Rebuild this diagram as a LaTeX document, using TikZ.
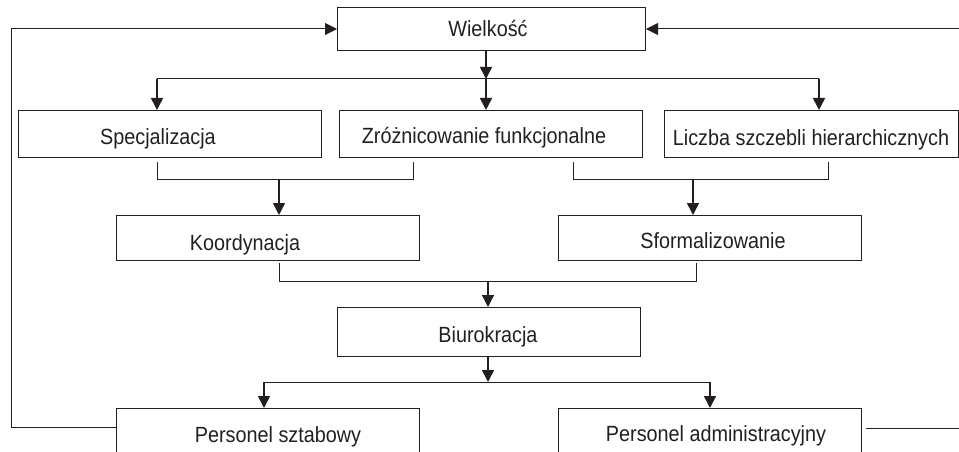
\documentclass[tikz,border=0pt]{standalone}
\usepackage{fontspec}
\setmainfont{Liberation Sans}[FakeStretch=0.9]
\usetikzlibrary{arrows.meta}
\definecolor{ink}{RGB}{35,31,32}
\begin{document}
\begin{tikzpicture}[x=1pt,y=-1pt,
  box/.style={draw=ink, line width=1pt, anchor=north west, inner sep=0pt, minimum height=#1},
  box/.default=47pt,
  txt/.style={anchor=base, inner sep=0pt, text=ink, font=\fontsize{22pt}{24pt}\selectfont},
  ln/.style={draw=ink, line width=1pt},
  arr/.style={draw=ink, line width=1.6pt, -{Triangle[width=12pt,length=12pt]}},
  farr/.style={draw=ink, line width=1pt, -{Triangle[width=12pt,length=12pt]}}]
\useasboundingbox (0,0) rectangle (959,452);
% boxes
\node[box=43pt, minimum width=308pt] (w) at (337,7) {};
\node[box, minimum width=303pt] (spec) at (18,110) {};
\node[box, minimum width=303pt] (zroz) at (339,110) {};
\node[box, minimum width=294pt] (licz) at (664,110) {};
\node[box=45pt, minimum width=303pt] (koord) at (116,215) {};
\node[box=45pt, minimum width=303pt] (sform) at (558,215) {};
\node[box=49pt, minimum width=303pt] (biuro) at (337,307) {};
\node[box=50pt, minimum width=303pt] (ps) at (116,408) {};
\node[box=50pt, minimum width=303pt] (pa) at (558,408) {};
% texts
\node[txt] (tw) at (488,37) {Wielkość};
\node[txt] (tspec) at (158,144) {Specjalizacja};
\node[txt] (tzroz) at (484,143) {Zróżnicowanie funkcjonalne};
\node[txt] (tlicz) at (811,145) {Liczba szczebli hierarchicznych};
\node[txt] (tkoord) at (245,250) {Koordynacja};
\node[txt] (tsform) at (713,248) {Sformalizowanie};
\node[txt] (tbiuro) at (488,342) {Biurokracja};
\node[txt] (tps) at (278,442) {Personel sztabowy};
\node[txt] (tpa) at (716,441) {Personel administracyjny};
% level 1 distribution
\coordinate (h1L) at (157,79);
\coordinate (h1M) at (486,79);
\coordinate (h1R) at (819,79);
\draw[ln] (h1L) -- (h1R);
\draw[arr] (w.south -| h1M) -- (h1M);
\draw[arr] (h1L) -- (h1L |- spec.north);
\draw[arr] (h1M) -- (h1M |- zroz.north);
\draw[arr] (h1R) -- (h1R |- licz.north);
% bracket 1
\coordinate (b1a) at (157,162);
\coordinate (b1b) at (413,162);
\coordinate (b1m) at (279,179);
\draw[ln] (b1a) -- (b1a |- b1m) -- (b1b |- b1m) -- (b1b);
\draw[arr] (b1m) -- (b1m |- koord.north);
% bracket 2
\coordinate (b2a) at (573,162);
\coordinate (b2b) at (828,162);
\coordinate (b2m) at (693,179);
\draw[ln] (b2a) -- (b2a |- b2m) -- (b2b |- b2m) -- (b2b);
\draw[arr] (b2m) -- (b2m |- sform.north);
% bracket 3
\coordinate (b3a) at (279,263);
\coordinate (b3b) at (696,263);
\coordinate (b3m) at (488,281);
\draw[ln] (b3a) -- (b3a |- b3m) -- (b3b |- b3m) -- (b3b);
\draw[arr] (b3m) -- (b3m |- biuro.north);
% bottom distribution
\coordinate (h2L) at (264,382);
\coordinate (h2M) at (488,382);
\coordinate (h2R) at (710,382);
\draw[ln] (h2L) -- (h2R);
\draw[arr] (biuro.south -| h2M) -- (h2M);
\draw[arr] (h2L) -- (h2L |- ps.north);
\draw[arr] (h2R) -- (h2R |- pa.north);
% feedback loops
\coordinate (fbL) at (11,427);
\draw[farr] (ps.west |- fbL) -- (fbL) -- (fbL |- w.west) -- (w.west);
\coordinate (fbR) at (962,428);
\coordinate (fbRs) at (866,428);
\draw[farr] (fbRs) -- (fbR) -- (fbR |- w.east) -- (w.east);
\end{tikzpicture}
\end{document}
